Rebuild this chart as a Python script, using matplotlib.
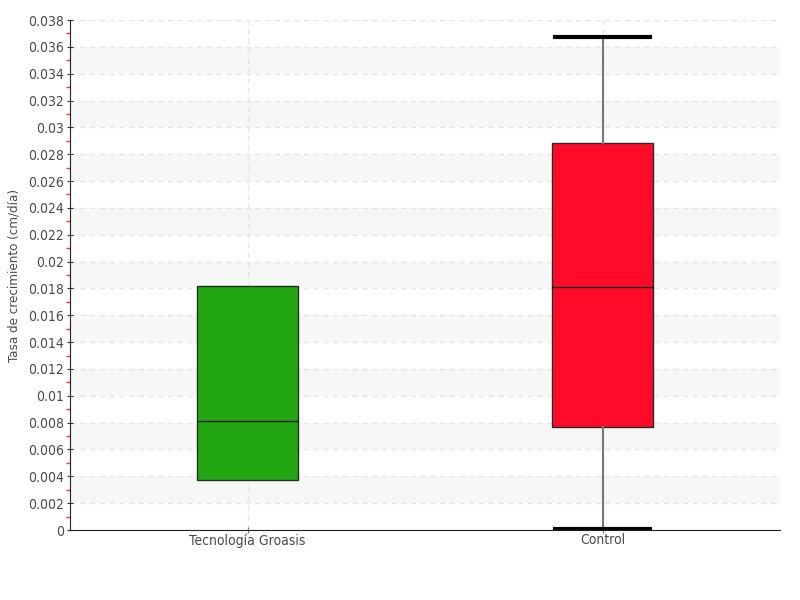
import matplotlib
matplotlib.use("Agg")
import matplotlib.pyplot as plt
from matplotlib.ticker import MultipleLocator, FuncFormatter

categories = ["Tecnología Groasis", "Control"]
q1 = [0.0037, 0.0077]
median = [0.0081, 0.0181]
q3 = [0.0182, 0.0288]
whislo = [0.0037, 0.0001]
whishi = [0.0182, 0.0367]
colors = ["#22a612", "#ff0b29"]
show_whiskers = [False, True]

plt.rcParams['font.family'] = ['DejaVu Sans']
fig = plt.figure(figsize=(8, 6), dpi=100)
ax = fig.add_axes([70/800, 70/600, 710/800, 510/600])

ymax = 0.038
# alternating bands
for lo in [0.002 + 0.004*i for i in range(9)]:
    ax.axhspan(lo, lo+0.002, color="#f7f7f7", zorder=0, lw=0)

ax.yaxis.grid(True, color="#e6e6e6", linestyle=(0, (4, 3)), lw=1, zorder=1)
ax.xaxis.grid(True, color="#e6e6e6", linestyle=(0, (4, 3)), lw=1, zorder=1)

for i in range(len(categories)):
    st = dict(med=median[i], q1=q1[i], q3=q3[i], whislo=whislo[i], whishi=whishi[i], fliers=[])
    ax.bxp([st], positions=[i], widths=0.282, patch_artist=True,
           showcaps=show_whiskers[i], showfliers=False,
           boxprops=dict(facecolor=colors[i], edgecolor="#2a2a2a", lw=1),
           medianprops=dict(color="#1a1a1a", lw=1),
           whiskerprops=dict(color="#777777", lw=1.5, alpha=1 if show_whiskers[i] else 0),
           capprops=dict(color="black", lw=3),
           capwidths=0.268, zorder=3)

ax.set_xlim(-0.5, 1.5)
ax.set_ylim(0, ymax)
ax.set_xticks(range(len(categories)))
ax.set_xticklabels(categories)
ax.yaxis.set_major_locator(MultipleLocator(0.002))
ax.yaxis.set_minor_locator(MultipleLocator(0.001))

def fmt(v, p):
    s = f"{v:.3f}".rstrip("0").rstrip(".")
    return "0" if v == 0 else s
ax.yaxis.set_major_formatter(FuncFormatter(fmt))

for s in ["top", "right"]:
    ax.spines[s].set_visible(False)
ax.spines["left"].set_color("#222222")
ax.spines["bottom"].set_color("#222222")
ax.tick_params(axis="y", which="major", direction="inout", length=5, color="#333333",
               labelsize=10, labelcolor="#4a4a4a", pad=2)
ax.tick_params(axis="y", which="minor", direction="out", length=3, width=1, color="#ff3030")
ax.tick_params(axis="x", which="major", direction="inout", length=5, color="#777777",
               labelsize=10, labelcolor="#4a4a4a", pad=0)
for lab in ax.get_yticklabels() + ax.get_xticklabels():
    lab.set_fontstretch("condensed")

ax.set_ylabel("Tasa de crecimiento (cm/día)", fontsize=9.5, color="#4a4a4a",
              fontstretch="condensed")
ax.yaxis.set_label_coords(-0.07, 0.5)

fig.savefig("out.png", dpi=100)
